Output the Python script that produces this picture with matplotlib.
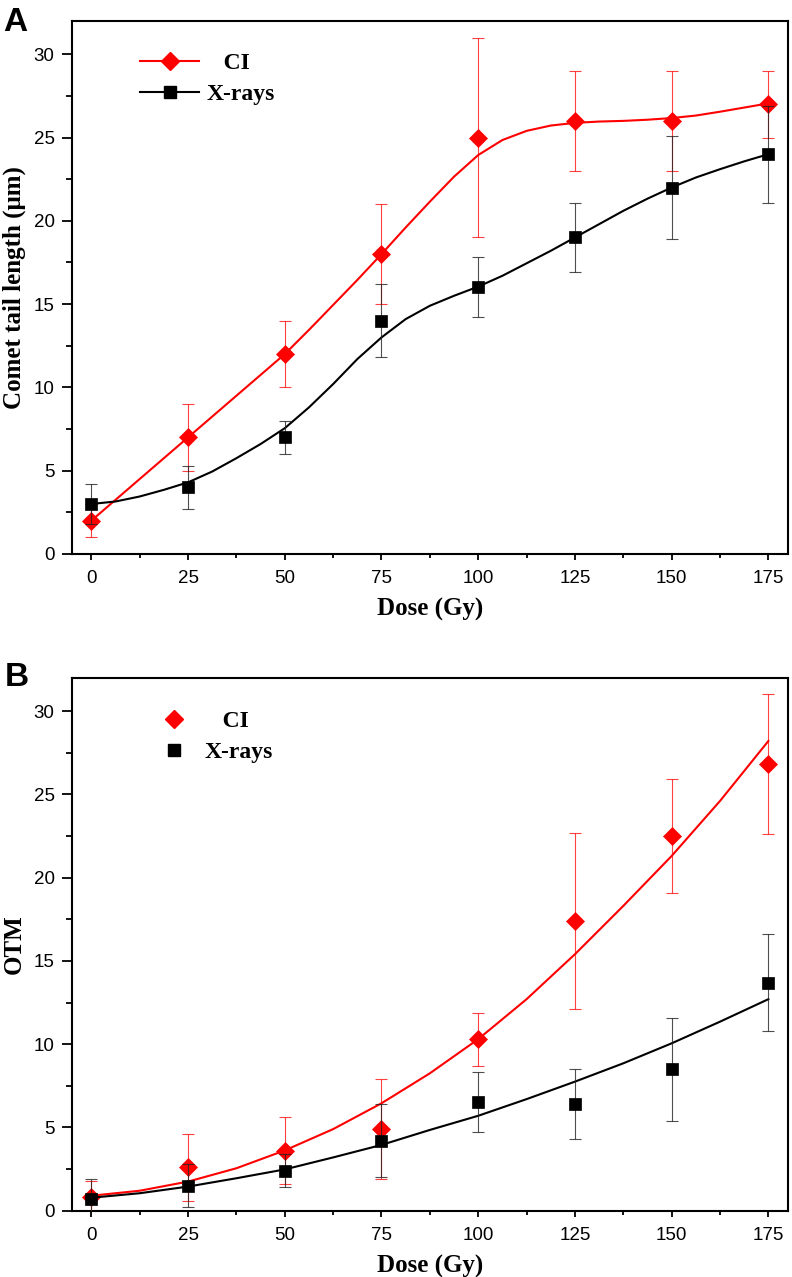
import matplotlib
matplotlib.use("Agg")
import matplotlib.pyplot as plt
from matplotlib.lines import Line2D
from matplotlib.ticker import MultipleLocator

# measured points
dose = [0, 25, 50, 75, 100, 125, 150, 175]

tail_ci = [2, 7, 12, 18, 25, 26, 26, 27]
tail_ci_err = [1, 2, 2, 3, 6, 3, 3, 2]
tail_xr = [3, 4, 7, 14, 16, 19, 22, 24]
tail_xr_err = [1.2, 1.3, 1.0, 2.2, 1.8, 2.1, 3.1, 2.9]

otm_ci = [0.8, 2.6, 3.6, 4.9, 10.3, 17.4, 22.5, 26.8]
otm_ci_err = [1.0, 2.0, 2.0, 3.0, 1.6, 5.3, 3.4, 4.2]
otm_xr = [0.7, 1.5, 2.4, 4.2, 6.5, 6.4, 8.5, 13.7]
otm_xr_err = [1.2, 1.3, 1.0, 2.2, 1.8, 2.1, 3.1, 2.9]

# fitted curves
fit_dose_a = [0, 6.25, 12.5, 18.75, 25, 31.25, 37.5, 43.75, 50, 56.25, 62.5,
              68.75, 75, 81.25, 87.5, 93.75, 100, 106.25, 112.5, 118.75, 125,
              131.25, 137.5, 143.75, 150, 156.25, 162.5, 168.75, 175]
fit_tail_ci = [2.0, 3.25, 4.5, 5.75, 7.0, 8.25, 9.5, 10.75, 12.0, 13.45, 14.95,
               16.45, 18.0, 19.6, 21.15, 22.65, 23.95, 24.85, 25.4, 25.72, 25.88,
               25.96, 26.0, 26.07, 26.17, 26.32, 26.55, 26.8, 27.05]
fit_tail_xr = [3.0, 3.15, 3.45, 3.85, 4.3, 4.95, 5.75, 6.6, 7.55, 8.8, 10.2,
               11.7, 13.0, 14.1, 14.9, 15.5, 16.05, 16.7, 17.45, 18.2, 19.0,
               19.8, 20.6, 21.33, 22.0, 22.6, 23.1, 23.57, 24.0]

fit_dose_b = [0, 12.5, 25, 37.5, 50, 62.5, 75, 87.5, 100, 112.5, 125, 137.5,
              150, 162.5, 175]
fit_otm_ci = [0.9, 1.2, 1.75, 2.55, 3.62, 4.9, 6.45, 8.25, 10.3, 12.7, 15.4,
              18.3, 21.3, 24.6, 28.2]
fit_otm_xr = [0.78, 1.05, 1.45, 1.95, 2.48, 3.2, 3.95, 4.85, 5.7, 6.7, 7.75,
              8.85, 10.05, 11.35, 12.7]

RED = "#ff0000"
serif = "Liberation Serif"
sans = "Liberation Sans"

fig = plt.figure(figsize=(7.92, 12.77), dpi=100)
ax_a = fig.add_axes([0.0909, 0.5662, 0.9037, 0.4174])
ax_b = fig.add_axes([0.0909, 0.0519, 0.9037, 0.4174])


def draw_panel(ax, fx, fci, fxr, ci, ci_err, xr, xr_err, ylabel):
    ax.plot(fx, fci, color=RED, lw=1.5, zorder=2)
    ax.errorbar(dose, ci, yerr=ci_err, fmt="none", ecolor=RED, elinewidth=0.8,
                capsize=4.3, capthick=0.8, alpha=0.75, zorder=3)
    ax.plot(dose, ci, ls="none", marker="D", ms=9, color=RED,
            mec=RED, mew=0.5, zorder=4)
    ax.plot(fx, fxr, color="black", lw=1.5, zorder=5)
    ax.errorbar(dose, xr, yerr=xr_err, fmt="none", ecolor="#222222",
                elinewidth=0.8, capsize=4.3, capthick=0.8, alpha=0.8, zorder=6)
    ax.plot(dose, xr, ls="none", marker="s", ms=8.2, color="black",
            mec="black", mew=0.5, zorder=7)

    ax.set_xlim(-5, 180)
    ax.set_ylim(0, 32)
    ax.xaxis.set_major_locator(MultipleLocator(25))
    ax.xaxis.set_minor_locator(MultipleLocator(12.5))
    ax.yaxis.set_major_locator(MultipleLocator(5))
    ax.yaxis.set_minor_locator(MultipleLocator(2.5))
    ax.tick_params(axis="x", which="major", length=4.5, width=1.3, pad=7,
                   labelsize=13.5)
    ax.tick_params(axis="x", which="minor", length=3, width=1.3)
    ax.tick_params(axis="y", which="major", length=7, width=1.3, pad=5.5,
                   labelsize=13.5)
    ax.tick_params(axis="y", which="minor", length=4.5, width=1.3)
    for lab in ax.get_xticklabels() + ax.get_yticklabels():
        lab.set_fontfamily(sans)
    for sp in ax.spines.values():
        sp.set_linewidth(1.5)

    ax.set_xlabel("Dose (Gy)", fontfamily=serif, fontweight="bold", fontsize=18)
    ax.xaxis.set_label_coords(0.5, -0.082)
    ax.set_ylabel(ylabel, fontfamily=serif, fontweight="bold", fontsize=18)
    ax.yaxis.set_label_coords(-0.064, 0.5)


draw_panel(ax_a, fit_dose_a, fit_tail_ci, fit_tail_xr, tail_ci, tail_ci_err,
           tail_xr, tail_xr_err, "Comet tail length (\u03bcm)")
draw_panel(ax_b, fit_dose_b, fit_otm_ci, fit_otm_xr, otm_ci, otm_ci_err,
           otm_xr, otm_xr_err, "OTM")

# legends
leg_font = {"family": serif, "weight": "bold", "size": 17}
h_ci = Line2D([], [], color=RED, lw=1.5, marker="D", ms=9)
h_xr = Line2D([], [], color="black", lw=1.5, marker="s", ms=8.2)
ax_a.legend([h_ci, h_xr], ["   CI", "X-rays"], loc="center left",
            bbox_to_anchor=(0.095, 0.891), frameon=False, prop=leg_font,
            handlelength=2.5, handletextpad=0.3, labelspacing=0.4,
            borderpad=0, borderaxespad=0)

m_ci = Line2D([], [], ls="none", color=RED, marker="D", ms=9)
m_xr = Line2D([], [], ls="none", color="black", marker="s", ms=8.2)
ax_b.legend([m_ci, m_xr], ["   CI", "X-rays"], loc="center left",
            bbox_to_anchor=(0.118, 0.889), frameon=False, prop=leg_font,
            handlelength=1.5, handletextpad=0.55, labelspacing=0.4,
            borderpad=0, borderaxespad=0)

fig.text(3 / 792, 1 - 31 / 1277, "A", fontfamily=sans, fontweight="bold",
         fontsize=24, va="baseline", ha="left")
fig.text(5 / 792, 1 - 686 / 1277, "B", fontfamily=sans, fontweight="bold",
         fontsize=24, va="baseline", ha="left")

fig.savefig("out.png", dpi=100)
